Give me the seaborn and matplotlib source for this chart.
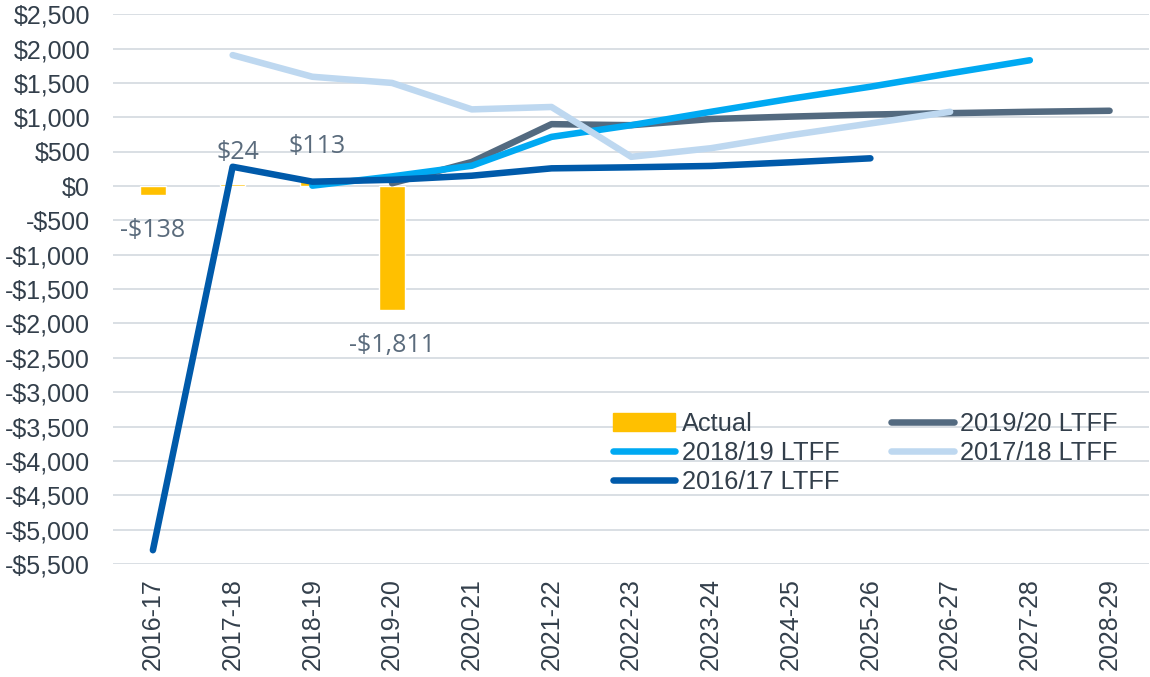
import matplotlib
matplotlib.use("Agg")
import matplotlib.pyplot as plt
from matplotlib.lines import Line2D
from matplotlib.patches import Patch
from matplotlib.ticker import FuncFormatter, MultipleLocator
import seaborn as sns
import pandas as pd
import numpy as np

# categories on the x axis
years = ['2016-17', '2017-18', '2018-19', '2019-20', '2020-21', '2021-22', '2022-23',
         '2023-24', '2024-25', '2025-26', '2026-27', '2027-28', '2028-29']

# actual result (bars)
actual_years = ['2016-17', '2017-18', '2018-19', '2019-20']
actual = [-138, 24, 113, -1811]

# forecasts, each one starting at the year it was made
ltff_1920_years = years[3:]
ltff_1920 = [40, 350, 900, 885, 975, 1010, 1040, 1060, 1080, 1095]

ltff_1819_years = years[2:12]
ltff_1819 = [5, 140, 295, 715, 885, 1080, 1270, 1445, 1640, 1830]

ltff_1718_years = years[1:11]
ltff_1718 = [1905, 1590, 1500, 1115, 1150, 425, 550, 740, 910, 1080]

ltff_1617_years = years[0:10]
ltff_1617 = [-5300, 280, 63, 90, 150, 257, 272, 292, 345, 403]

series_names = ['2019/20 LTFF', '2018/19 LTFF', '2017/18 LTFF', '2016/17 LTFF']
series_colors = {'2019/20 LTFF': '#536A80', '2018/19 LTFF': '#00A9F2',
                 '2017/18 LTFF': '#BED8F0', '2016/17 LTFF': '#005AAA'}
bar_color = '#FFC000'

frames = []
for name, yrs, vals in [('2019/20 LTFF', ltff_1920_years, ltff_1920),
                        ('2018/19 LTFF', ltff_1819_years, ltff_1819),
                        ('2017/18 LTFF', ltff_1718_years, ltff_1718),
                        ('2016/17 LTFF', ltff_1617_years, ltff_1617)]:
    frames.append(pd.DataFrame({'year': yrs, 'value': vals, 'series': name}))
lines = pd.concat(frames, ignore_index=True)
lines['pos'] = lines['year'].map({y: i for i, y in enumerate(years)})

bars = pd.DataFrame({'year': actual_years, 'value': actual})

sns.set_style('white')
plt.rcParams['font.family'] = ['Liberation Sans', 'DejaVu Sans']
text_col = '#333F4B'
label_col = '#5A6B7C'

fig = plt.figure(figsize=(11.5, 6.77), dpi=100)
ax = fig.add_axes([0.0983, 0.167, 0.9012, 0.812])

sns.barplot(data=bars, x='year', y='value', order=years, color=bar_color,
            width=0.32, errorbar=None, saturation=1, ax=ax, zorder=2)

sns.lineplot(data=lines, x='pos', y='value', hue='series', hue_order=series_names,
             palette=series_colors, linewidth=4.7, legend=False, ax=ax,
             solid_capstyle='round', zorder=3)

# data labels on the bars
for yr, v in zip(actual_years, actual):
    x = years.index(yr)
    txt = f'-${abs(v):,}' if v < 0 else f'${v:,}'
    dx = 3.5 if v > 0 else 0
    dy = 23 if v > 0 else -25
    ax.annotate(txt, (x, v), xytext=(dx, dy), textcoords='offset points',
                ha='center', va='center', fontsize=18, color=label_col,
                family=['Open Sans', 'DejaVu Sans'])

ax.set_xlim(-0.5, len(years) - 0.5)
ax.set_ylim(-5500, 2500)
ax.yaxis.set_major_locator(MultipleLocator(500))
ax.yaxis.set_major_formatter(FuncFormatter(
    lambda v, p: f'-${abs(v):,.0f}' if v < 0 else f'${v:,.0f}'))
ax.set_xticks(range(len(years)))
ax.set_xticklabels(years, rotation=90)
ax.set_xlabel('')
ax.set_ylabel('')
ax.grid(axis='y', color='#D9DFE4', linewidth=1.4, zorder=0)
ax.set_axisbelow(True)
for s in ax.spines.values():
    s.set_visible(False)
ax.tick_params(axis='y', length=0, pad=16.5, labelsize=18, labelcolor=text_col)
ax.tick_params(axis='x', length=0, pad=10, labelsize=18, labelcolor=text_col)

# legend: Actual, 2019/20 / 2018/19, 2017/18 / 2016/17 (row major, 2 columns)
h = {n: Line2D([], [], color=series_colors[n], linewidth=4.7, solid_capstyle='round')
     for n in series_names}
handles = [Patch(color=bar_color), h['2018/19 LTFF'], h['2016/17 LTFF'],
           h['2019/20 LTFF'], h['2017/18 LTFF']]
labels = ['Actual', '2018/19 LTFF', '2016/17 LTFF', '2019/20 LTFF', '2017/18 LTFF']
leg = ax.legend(handles, labels, ncol=2, loc='upper left',
                bbox_to_anchor=(613 / 1150, 1 - 412 / 677), bbox_transform=fig.transFigure,
                frameon=False, fontsize=18.3, handlelength=2.45, handletextpad=0.25,
                columnspacing=2.05, labelspacing=0.19, borderpad=0, borderaxespad=0)
for t in leg.get_texts():
    t.set_color(text_col)

fig.savefig('out.png', dpi=100)
